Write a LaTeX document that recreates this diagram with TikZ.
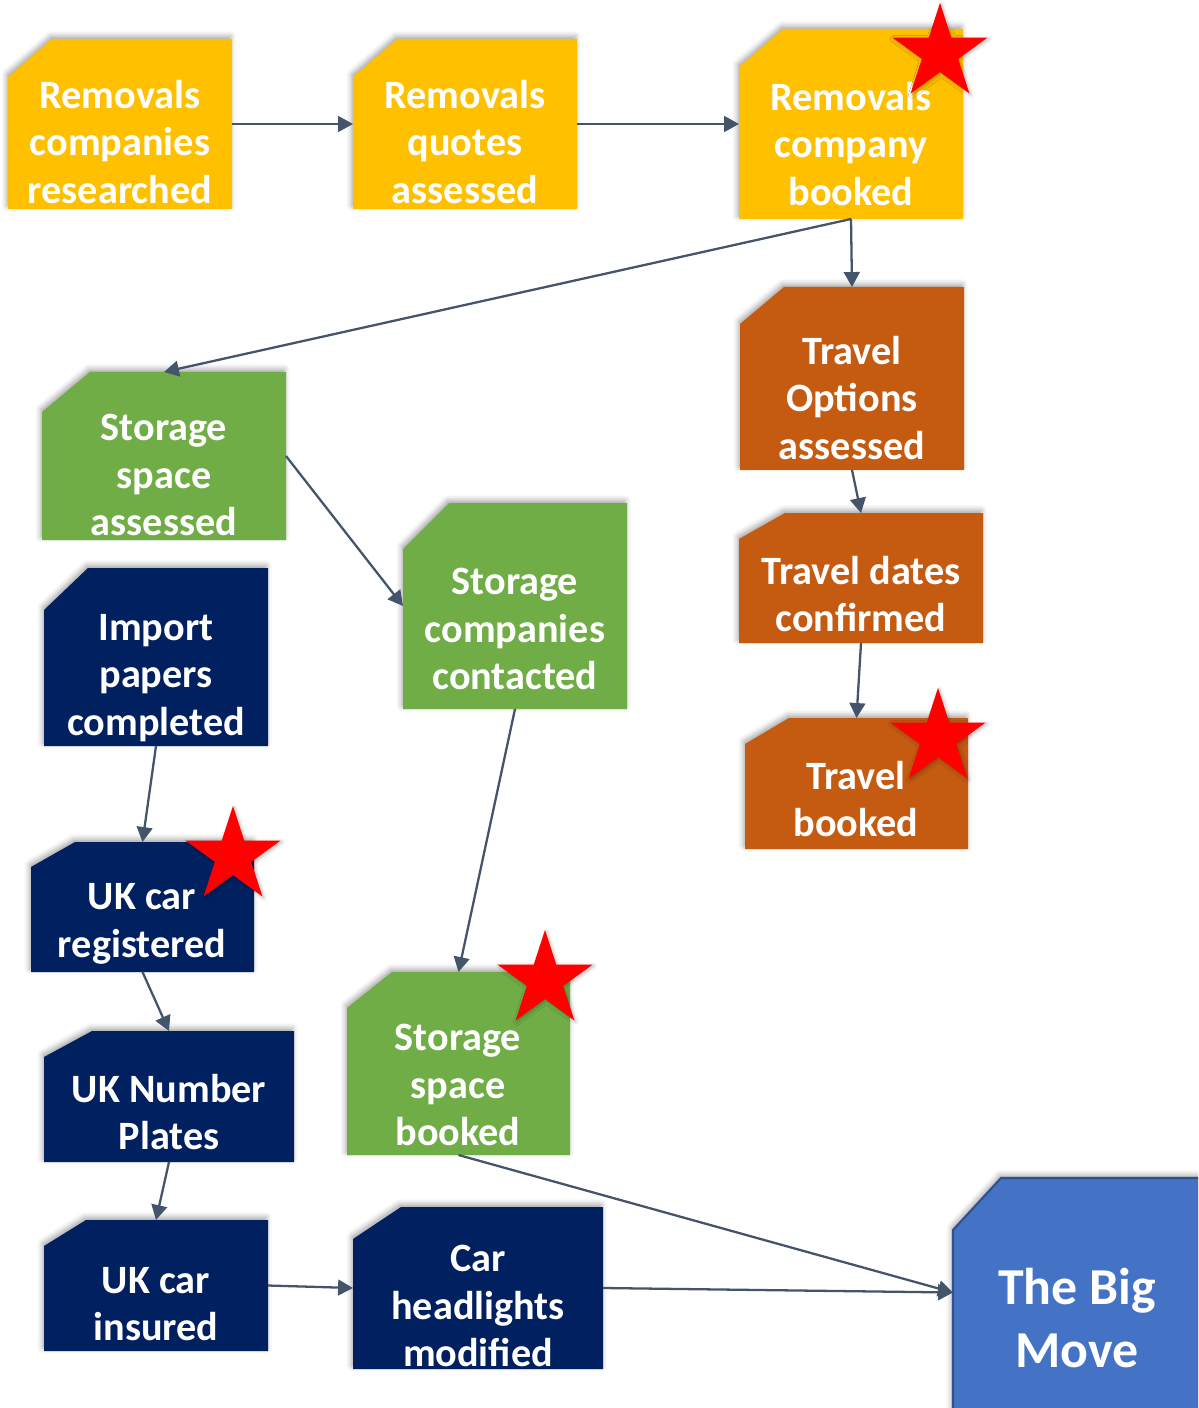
\documentclass[tikz,border=0pt]{standalone}
\usepackage{fontspec}
\setmainfont{Carlito}
\usetikzlibrary{arrows.meta,shadows.blur}
\definecolor{cyellow}{HTML}{FFC000}
\definecolor{corange}{HTML}{C55A11}
\definecolor{cgreen}{HTML}{70AD47}
\definecolor{cnavy}{HTML}{002060}
\definecolor{cblue}{HTML}{4472C4}
\definecolor{cblueborder}{HTML}{2F528F}
\definecolor{carrow}{HTML}{44546A}
\definecolor{cstar}{HTML}{FF0000}
\tikzset{
  boxframe/.style={rectangle, draw=none, inner sep=0pt, outer sep=0pt},
  boxshadow/.style={blur shadow={shadow xshift=-0.8pt, shadow yshift=1.6pt, shadow blur radius=3pt, shadow opacity=35}},
  boxtext/.style={text=white, align=center, inner sep=0pt, font=\bfseries\fontsize{22.9}{27.2}\selectfont},
  bigtext/.style={text=white, align=center, inner sep=0pt, font=\bfseries\fontsize{29.5}{35.7}\selectfont},
  conn/.style={draw=carrow, line width=1.3pt, -{Triangle[length=8.5pt,width=9pt]}},
  starfill/.style={fill=cstar, blur shadow={shadow xshift=0.8pt, shadow yshift=-0.8pt, shadow blur radius=2pt, shadow opacity=30}}
}
% name x1 y1 x2 y2 cutx cuty colour
\newcommand\snipbox[8]{%
  \node[boxframe, minimum width={(#4-#2)*0.02cm}, minimum height={(#5-#3)*0.02cm}] (#1) at ({(#2+#4)/2},{(#3+#5)/2}) {};
  \fill[#8, boxshadow] (#2,#5) -- (#4,#5) -- (#4,#3) -- ({#2+#6},#3) -- (#2,{#3+#7}) -- cycle;
}
\newcommand\redstar[2]{%
  \fill[starfill] (#1,#2) +(0,-50) -- +(11.23,-15.45) -- +(47.55,-15.45) -- +(18.16,5.90)
    -- +(29.39,40.45) -- +(0,19.1) -- +(-29.39,40.45) -- +(-18.16,5.90)
    -- +(-47.55,-15.45) -- +(-11.23,-15.45) -- cycle;
}
\begin{document}
\begin{tikzpicture}[x=0.02cm,y=-0.02cm]
\clip (0,0) rectangle (1198,1408);
\useasboundingbox (0,0) rectangle (1198,1408);

% boxes
\snipbox{rcr}{8}{39}{232}{209}{44}{38}{cyellow}
\snipbox{rqa}{353}{39}{577}{209}{44}{38}{cyellow}
\snipbox{rcb}{739}{29}{963}{219}{44}{38}{cyellow}
\snipbox{toa}{740}{287}{964}{470}{44}{37}{corange}
\snipbox{tdc}{739}{513}{983}{643}{46}{26}{corange}
\snipbox{tb}{745}{718}{968}{849}{44}{26}{corange}
\snipbox{ssa}{42}{372}{286}{540}{48}{40}{cgreen}
\snipbox{scc}{403}{503}{627}{709}{46}{46}{cgreen}
\snipbox{ssb}{347}{972}{570}{1155}{45}{36}{cgreen}
\snipbox{ipc}{44}{568}{268}{746}{44}{42}{cnavy}
\snipbox{ukr}{31}{842}{254}{972}{44}{25}{cnavy}
\snipbox{uknp}{44}{1031}{294}{1162}{48}{26}{cnavy}
\snipbox{uki}{44}{1220}{268}{1351}{42}{26}{cnavy}
\snipbox{chm}{353}{1207}{603}{1369}{48}{32}{cnavy}
\node[boxframe, minimum width={245*0.02cm}, minimum height={231*0.02cm}] (tbm) at (1075.5,1292.5) {};
\fill[cblue, draw=cblueborder, line width=1.2pt, boxshadow] (953,1420) -- (1210,1420) -- (1210,1178) -- (1001,1178) -- (953,1230) -- cycle;

% texts
\node[boxtext] (rcrt) at (120,142) {Removals\\companies\\researched};
\node[boxtext] (rqat) at (465,142) {Removals\\quotes\\assessed};
\node[boxtext] (rcbt) at (851,144) {Removals\\company\\booked};
\node[boxtext] (toat) at (852,398) {Travel\\Options\\assessed};
\node[boxtext] (tdct) at (861,594) {Travel dates\\confirmed};
\node[boxtext] (tbt) at (856,799) {Travel\\booked};
\node[boxtext] (ssat) at (164,475) {Storage\\space\\assessed};
\node[boxtext] (scct) at (515,629) {Storage\\companies\\contacted};
\node[boxtext] (ssbt) at (458,1085) {Storage\\space\\booked};
\node[boxtext] (ipct) at (156,678) {Import\\papers\\completed};
\node[boxtext] (ukrt) at (142,924) {UK car\\registered};
\node[boxtext] (uknpt) at (169,1112) {UK Number\\Plates};
\node[boxtext] (ukit) at (156,1304) {UK car\\insured};
\node[boxtext] (chmt) at (478,1306) {Car\\headlights\\modified};
\node[bigtext] (tbmt) at (1077,1318) {The Big\\Move};

% connectors
\draw[conn] (rcr.east) -- (rqa.west);
\draw[conn] (rqa.east) -- (rcb.west);
\draw[conn] (rcb.south) -- (toa.north);
\draw[conn] (rcb.south) -- (ssa.north);
\draw[conn] (toa.south) -- (tdc.north);
\draw[conn] (tdc.south) -- (tb.north);
\draw[conn] (ssa.east) -- (scc.west);
\draw[conn] (scc.south) -- (ssb.north);
\draw[conn] (ipc.south) -- (ukr.north);
\draw[conn] (ukr.south) -- (uknp.north);
\draw[conn] (uknp.south) -- (uki.north);
\draw[conn] (uki.east) -- (chm.west);
\draw[conn] (chm.east) -- (tbm.west);
\draw[conn] (ssb.south) -- (tbm.west);

% stars
\redstar{940}{53}
\redstar{938}{738}
\redstar{233}{856}
\redstar{545}{980}
\end{tikzpicture}
\end{document}
